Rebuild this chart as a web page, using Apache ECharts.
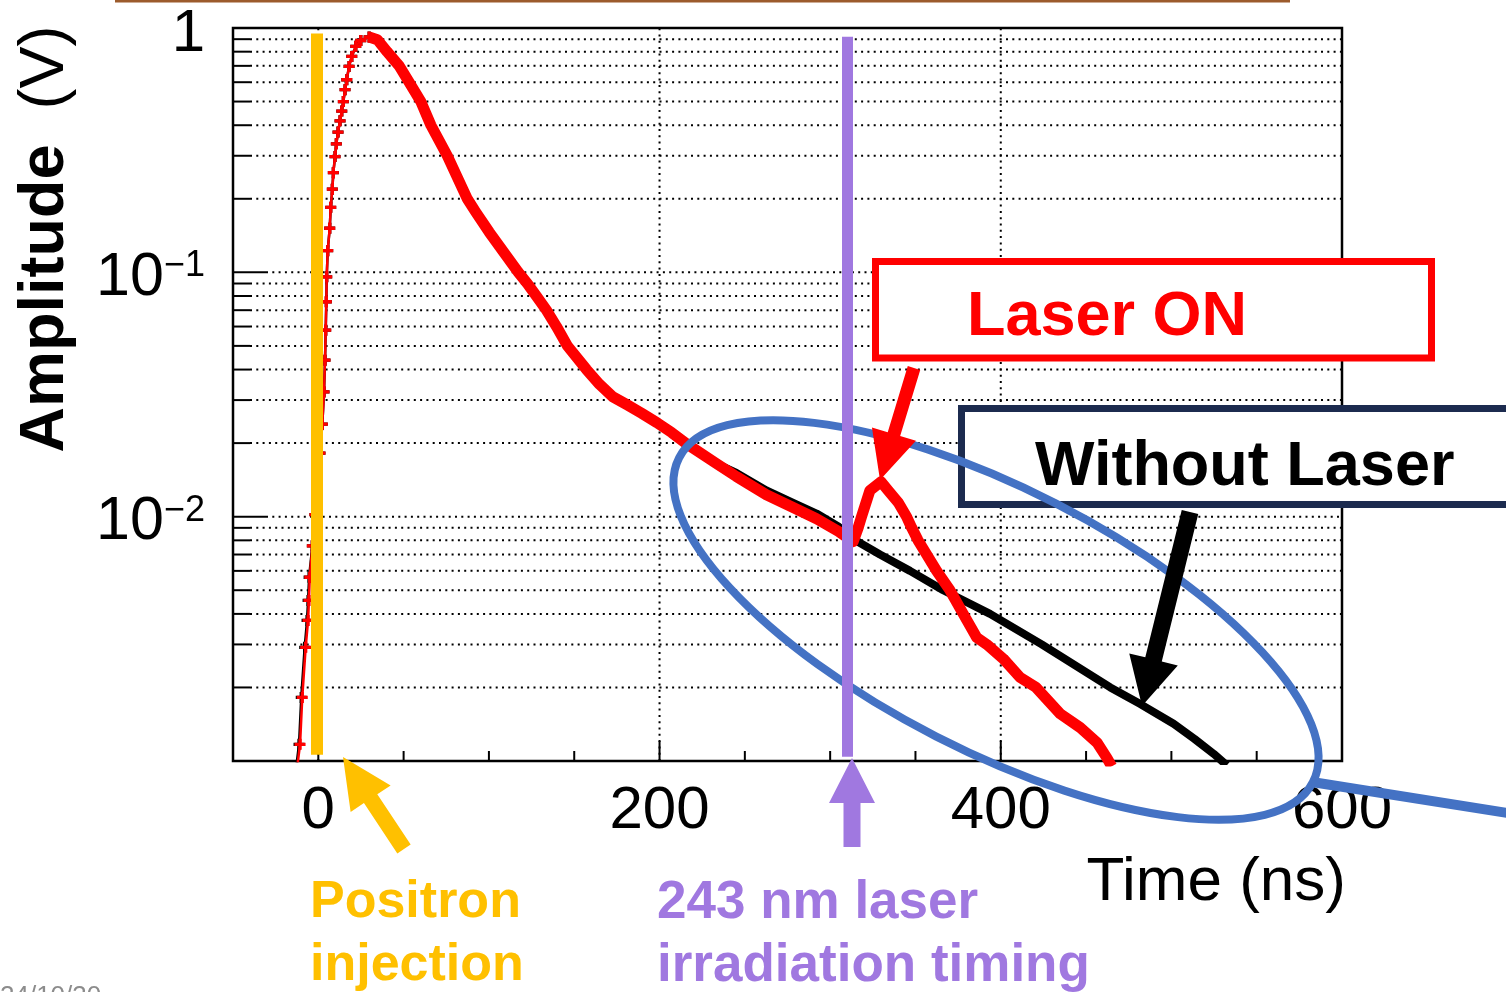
<!DOCTYPE html>
<html>
<head>
<meta charset="utf-8">
<script src="https://cdn.jsdelivr.net/npm/echarts@6/dist/echarts.min.js"></script>
<style>
  html, body { margin: 0; padding: 0; background: #ffffff; }
  #chart { width: 1506px; height: 992px; }
</style>
</head>
<body>
<div id="chart"></div>
<script>
// ---- Waveform samples: time (ns) and amplitude (V) ----
const noLaserTime = [
  -13.0, -11.3, -10.0, -8.0, -6.6, -6.0, -5.4, -3.5, -2.0, -0.5, 1.0, 2.35, 3.35, 3.93, 4.34, 4.70,
  4.93, 5.52, 6.69, 7.28, 8.22, 8.81, 9.80, 10.57, 11.56, 12.74, 13.74, 14.68, 15.67, 16.67, 18.02,
  19.61, 21.95, 24.89, 29.8,
  34.6, 40.3, 47.4, 53.2, 60.1, 66.0, 75.6, 87.3, 92.4, 100.2, 117.2, 122.5, 127.8, 133.7, 139.6,
  146.0, 157.2, 164.8, 172.4, 180.6, 189.5, 198.3, 207.1, 215.7, 233.3,
  245.0, 262.6, 278.3, 292.0, 305.0, 313.5, 329.2, 346.8, 366.3, 393.7, 424.0, 464.2, 481.8,
  501.3, 513.6, 524.8, 532.5
];
const noLaserAmp = [
  0.00094, 0.00117, 0.00182, 0.00292, 0.00376, 0.00454, 0.00565, 0.0076, 0.0102, 0.0136, 0.0182,
  0.0239, 0.0324, 0.0437, 0.0580, 0.0758, 0.0959, 0.1226, 0.1515, 0.1846, 0.2189, 0.2559, 0.2977,
  0.3356, 0.3749, 0.417, 0.457, 0.500, 0.559, 0.614, 0.696, 0.765, 0.841, 0.889, 0.919,
  0.896, 0.80, 0.70, 0.60, 0.50, 0.40, 0.30, 0.20, 0.176, 0.146, 0.100, 0.090, 0.080, 0.070, 0.060,
  0.050, 0.040, 0.0348, 0.0310, 0.0288, 0.0265, 0.0243, 0.0221, 0.0199, 0.0165,
  0.0151, 0.0128, 0.0114, 0.0103, 0.0091, 0.0081, 0.0070, 0.0060, 0.0050, 0.0040, 0.0030, 0.0020,
  0.00171, 0.00142, 0.00123, 0.00107, 0.00096
];
const laserOnTime = [
  -12.4, -10.7, -9.4, -7.4, -6.0, -5.5, -5.0, -3.5, -2.0, -0.5, 1.0, 2.35, 3.35, 3.93, 4.34, 4.70,
  4.93, 5.52, 6.69, 7.28, 8.22, 8.81, 9.80, 10.57, 11.56, 12.74, 13.74, 14.68, 15.67, 16.67, 18.02,
  19.61, 21.95, 24.89, 29.8,
  34.6, 40.3, 47.4, 53.2, 60.1, 66.0, 75.6, 87.3, 92.4, 100.2, 117.2, 122.5, 127.8, 133.7, 139.6,
  146.0, 157.2, 164.8, 172.4, 180.6, 189.5, 198.3, 207.1, 215.7, 233.3,
  245.0, 262.6, 278.3, 292.0, 305.0, 313.5,
  316.4, 318.4, 323.3, 329.8, 334.0, 340.0, 344.8, 347.8, 351.5, 356.6, 362.4, 370.2, 378.0,
  385.9, 391.8, 401.5, 411.3, 420.7, 434.8, 446.6, 456.4, 462.2, 465.0
];
const laserOnAmp = [
  0.00094, 0.00117, 0.00182, 0.00292, 0.00376, 0.00454, 0.00565, 0.0076, 0.0102, 0.0136, 0.0182,
  0.0239, 0.0324, 0.0437, 0.0580, 0.0758, 0.0959, 0.1226, 0.1515, 0.1846, 0.2189, 0.2559, 0.2977,
  0.3356, 0.3749, 0.417, 0.457, 0.500, 0.559, 0.614, 0.696, 0.765, 0.841, 0.889, 0.919,
  0.896, 0.80, 0.70, 0.60, 0.50, 0.40, 0.30, 0.20, 0.176, 0.146, 0.100, 0.090, 0.080, 0.070, 0.060,
  0.050, 0.040, 0.0348, 0.0310, 0.0288, 0.0265, 0.0243, 0.0221, 0.0199, 0.0165,
  0.0146, 0.0123, 0.0109, 0.0098, 0.0087, 0.0079,
  0.0090, 0.0100, 0.0128, 0.0139, 0.0128, 0.0114, 0.0100, 0.0090, 0.0080, 0.0070, 0.0060, 0.0050,
  0.0040, 0.0032, 0.0030, 0.00262, 0.00220, 0.0020, 0.00156, 0.00137, 0.00119, 0.00103, 0.00095
];

// ---- Axes: ranges, ticks and labels ----
const timeRange = [-50, 600];
const ampRange = [0.001, 1];
const xTickValues = [-50, 0, 50, 100, 150, 200, 250, 300, 350, 400, 450, 500, 550, 600];
const xMajorValues = [0, 200, 400, 600];
const xGridValues = [0, 200, 400];
const yTickValues = [
  0.002, 0.003, 0.004, 0.005, 0.006, 0.007, 0.008, 0.009, 0.01,
  0.02, 0.03, 0.04, 0.05, 0.06, 0.07, 0.08, 0.09, 0.1,
  0.2, 0.3, 0.4, 0.5, 0.6, 0.7, 0.8, 0.9
];
const yDecadeValues = [0.01, 0.1];

// ---- Event timings (ns) ----
const injectionTime = -1;
const laserTime = 310;

const FONT = '"Liberation Sans", Arial, Helvetica, sans-serif';
const YELLOW = '#FFC000';
const PURPLE = '#A078E0';
const BLUE = '#4472C4';
const NAVY = '#1C2B4F';
const RED = '#FF0000';
const PLUS = 'path://M3.5,0H6.5V3.5H10V6.5H6.5V10H3.5V6.5H0V3.5H3.5Z';

function pairs(ts, vs) { return ts.map((t, i) => [t, vs[i]]); }
function peakIndex(vs) { let k = 0; vs.forEach((v, i) => { if (v > vs[k]) k = i; }); return k; }

const noLaserData = pairs(noLaserTime, noLaserAmp);
const laserOnData = pairs(laserOnTime, laserOnAmp);
const pkNo = peakIndex(noLaserAmp);
const pkOn = peakIndex(laserOnAmp);

// polygon for a straight block arrow from (x0,y0) to the tip (x1,y1)
function arrowPoints(x0, y0, x1, y1, shaftW, headL, headW) {
  const dx = x1 - x0, dy = y1 - y0, L = Math.hypot(dx, dy);
  const ux = dx / L, uy = dy / L, nx = -uy, ny = ux;
  const bx = x1 - ux * headL, by = y1 - uy * headL;
  const s = shaftW / 2, h = headW / 2;
  return [
    [x0 + nx * s, y0 + ny * s], [bx + nx * s, by + ny * s], [bx + nx * h, by + ny * h],
    [x1, y1],
    [bx - nx * h, by - ny * h], [bx - nx * s, by - ny * s], [x0 - nx * s, y0 - ny * s]
  ];
}

// dotted grid and inward tick marks of the frame
function renderFrame(params, api) {
  const children = [];
  const dotted = { stroke: '#000', lineWidth: 2, lineDash: [2, 4.3] };
  const solid = { stroke: '#000', lineWidth: 2 };
  yTickValues.forEach(v => {
    const a = api.coord([timeRange[0], v]);
    const b = api.coord([timeRange[1], v]);
    const len = yDecadeValues.indexOf(v) >= 0 ? 33 : 17;
    children.push({ type: 'line', shape: { x1: a[0] + len, y1: a[1], x2: b[0], y2: b[1] }, style: dotted });
    children.push({ type: 'line', shape: { x1: a[0], y1: a[1], x2: a[0] + len, y2: a[1] }, style: solid });
  });
  xGridValues.forEach(t => {
    const a = api.coord([t, ampRange[0]]);
    const b = api.coord([t, ampRange[1]]);
    children.push({ type: 'line', shape: { x1: a[0], y1: a[1], x2: b[0], y2: b[1] }, style: dotted });
  });
  xTickValues.forEach(t => {
    const a = api.coord([t, ampRange[0]]);
    const len = xMajorValues.indexOf(t) >= 0 ? 20 : 10;
    children.push({ type: 'line', shape: { x1: a[0], y1: a[1], x2: a[0], y2: a[1] - len }, style: solid });
  });
  return { type: 'group', children };
}

const chart = echarts.init(document.getElementById('chart'), null, { renderer: 'canvas' });

const option = {
  animation: false,
  backgroundColor: '#ffffff',
  grid: {
    left: 233, top: 28, width: 1109, height: 733,
    show: true, borderColor: '#000', borderWidth: 2.5, backgroundColor: 'transparent',
    containLabel: false, outerBoundsMode: 'none'
  },
  xAxis: {
    type: 'value', min: timeRange[0], max: timeRange[1], interval: 50,
    axisLine: { show: false }, axisTick: { show: false }, splitLine: { show: false },
    axisLabel: {
      show: true, hideOverlap: false, showMinLabel: true, showMaxLabel: true,
      margin: 20, fontSize: 60, fontFamily: FONT, color: '#000',
      formatter: v => (xMajorValues.indexOf(v) >= 0 ? String(v) : '')
    }
  },
  yAxis: {
    type: 'log', logBase: 10, min: ampRange[0], max: ampRange[1],
    axisLine: { show: false }, axisTick: { show: false }, splitLine: { show: false },
    axisLabel: {
      show: true, hideOverlap: false, margin: 28, fontSize: 60, fontFamily: FONT, color: '#000',
      padding: [12, 0, 0, 0],
      formatter: v => {
        const e = Math.round(Math.log10(v));
        if (e === 0) return '1';
        if (e < -2) return '';
        return '{b|10}{s|\u2212' + (-e) + '}';
      },
      rich: {
        b: { fontSize: 61, lineHeight: 60, fontFamily: FONT, color: '#000' },
        s: { fontSize: 36, lineHeight: 36, fontFamily: FONT, color: '#000', verticalAlign: 'top' }
      }
    }
  },
  series: [
    {
      type: 'custom', name: 'frame', silent: true, z: 1, clip: false,
      data: [[0, 0.01]],
      renderItem: renderFrame
    },
    {
      type: 'line', name: 'Without Laser', z: 3, silent: true,
      data: noLaserData.slice(0, pkNo + 1),
      symbol: PLUS, symbolSize: 11, showSymbol: true,
      itemStyle: { color: '#000' },
      lineStyle: { color: '#000', width: 2.5 }
    },
    {
      type: 'line', name: 'Without Laser', z: 3, silent: true,
      data: noLaserData.slice(pkNo),
      showSymbol: false,
      lineStyle: { color: '#000', width: 8, join: 'round' },
      markLine: {
        silent: true, symbol: 'none', z: 30, animation: false,
        label: { show: false },
        data: [
          [{ coord: [injectionTime, 0.95], lineStyle: { color: YELLOW, width: 12, type: 'solid' } },
           { coord: [injectionTime, 0.00106] }],
          [{ coord: [laserTime, 0.92], lineStyle: { color: PURPLE, width: 11, type: 'solid' } },
           { coord: [laserTime, 0.00104] }]
        ]
      }
    },
    {
      type: 'line', name: 'Laser ON', z: 4, silent: true,
      data: laserOnData.slice(0, pkOn + 1),
      symbol: PLUS, symbolSize: 11, showSymbol: true,
      itemStyle: { color: RED },
      lineStyle: { color: RED, width: 2.5 }
    },
    {
      type: 'line', name: 'Laser ON', z: 4, silent: true,
      data: laserOnData.slice(pkOn),
      showSymbol: false,
      lineStyle: { color: RED, width: 11, join: 'round' }
    }
  ],
  graphic: [
    { type: 'line', z: 40, shape: { x1: 115, y1: 1, x2: 1290, y2: 1 }, style: { stroke: '#9C5B2C', lineWidth: 3 } },

    { type: 'rect', z: 20, shape: { x: 875.5, y: 261.5, width: 556, height: 96.5 },
      style: { fill: '#fff', stroke: RED, lineWidth: 7 } },
    { type: 'text', z: 21, style: { text: 'Laser ON', x: 967, y: 318, font: 'bold 63px ' + FONT,
      fill: RED, align: 'left', verticalAlign: 'middle' } },

    { type: 'rect', z: 20, shape: { x: 961.5, y: 408.5, width: 580, height: 96 },
      style: { fill: '#fff', stroke: NAVY, lineWidth: 7 } },
    { type: 'text', z: 21, style: { text: 'Without Laser', x: 1035, y: 468, font: 'bold 63px ' + FONT,
      fill: '#000', align: 'left', verticalAlign: 'middle' } },

    { type: 'ellipse', z: 25, x: 996, y: 620, rotation: -0.473,
      shape: { cx: 0, cy: 0, rx: 356, ry: 131 },
      style: { fill: 'none', stroke: BLUE, lineWidth: 8 } },
    { type: 'line', z: 25, shape: { x1: 1312, y1: 782, x2: 1520, y2: 815 },
      style: { stroke: BLUE, lineWidth: 10 } },

    { type: 'polygon', z: 35, shape: { points: arrowPoints(914, 368, 880, 480, 13, 48, 46) }, style: { fill: RED } },
    { type: 'polygon', z: 35, shape: { points: arrowPoints(1190, 512, 1142, 706, 17, 48, 50) }, style: { fill: '#000' } },
    { type: 'polygon', z: 35, shape: { points: arrowPoints(404, 849, 343, 757, 16, 50, 48) }, style: { fill: YELLOW } },
    { type: 'polygon', z: 35, shape: { points: arrowPoints(852, 847, 852, 758, 17, 45, 46) }, style: { fill: PURPLE } },

    { type: 'text', z: 40, style: { text: 'Positron', x: 310, y: 903, font: 'bold 52px ' + FONT,
      fill: YELLOW, align: 'left', verticalAlign: 'middle' } },
    { type: 'text', z: 40, style: { text: 'injection', x: 310, y: 966, font: 'bold 52px ' + FONT,
      fill: YELLOW, align: 'left', verticalAlign: 'middle' } },
    { type: 'text', z: 40, style: { text: '243 nm laser', x: 657, y: 903, font: 'bold 53px ' + FONT,
      fill: PURPLE, align: 'left', verticalAlign: 'middle' } },
    { type: 'text', z: 40, style: { text: 'irradiation timing', x: 657, y: 966, font: 'bold 53px ' + FONT,
      fill: PURPLE, align: 'left', verticalAlign: 'middle' } },

    { type: 'text', z: 40, style: { text: 'Time (ns)', x: 1346, y: 883, font: '62px ' + FONT,
      fill: '#000', align: 'right', verticalAlign: 'middle' } },

    { type: 'text', z: 40, x: 46, y: 239, rotation: Math.PI / 2,
      style: { text: '{b|Amplitude}{r|  (V)}', align: 'center', verticalAlign: 'middle',
        rich: {
          b: { font: 'bold 63px ' + FONT, fill: '#000' },
          r: { font: '63px ' + FONT, fill: '#000' }
        } } },

    { type: 'text', z: 40, style: { text: '24/10/30', x: 0, y: 984, font: '26px ' + FONT,
      fill: '#8C8C8C', align: 'left', verticalAlign: 'top' } }
  ]
};

chart.setOption(option);
</script>
</body>
</html>
